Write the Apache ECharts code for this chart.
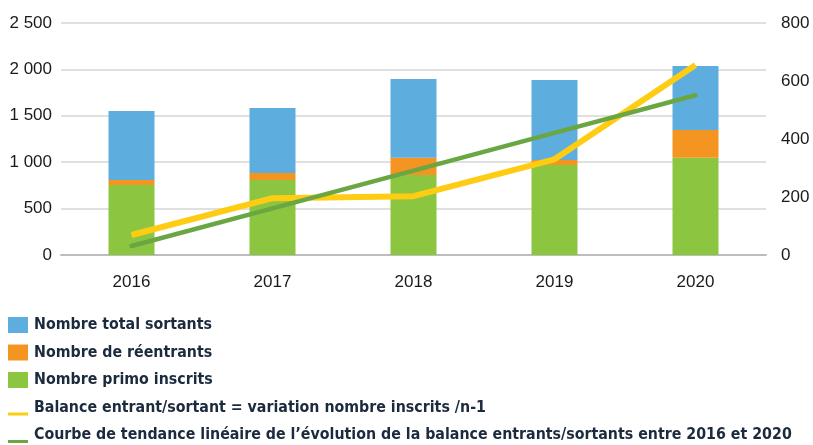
<!DOCTYPE html>
<html lang="fr">
	<head>
		<meta charset="UTF-8" />
		<title>Balance entrants / sortants</title>
		<script src="https://cdn.jsdelivr.net/npm/echarts@6/dist/echarts.min.js"></script>
		<style>
			html, body { margin: 0; padding: 0; background: #fff; }
		</style>
	</head>
	<body>
		<div id="chart" style="width: 813px; height: 445px"></div>

		<script>
			const years = ["2016", "2017", "2018", "2019", "2020"];
			// bar stack, bottom to top
			const primoInscrits = [755, 808, 862, 970, 1049];
			const reentrants = [53, 76, 187, 54, 298];
			const totalSortants = [744, 700, 848, 862, 690];
			// right axis
			const balance = [69, 196, 203, 330, 655];
			const tendance = [31, 161, 291, 421, 551];

			const names = {
				sortants: "Nombre total sortants",
				reentrants: "Nombre de réentrants",
				primo: "Nombre primo inscrits",
				balance: "Balance entrant/sortant = variation nombre inscrits /n-1",
				tendance: "Courbe de tendance linéaire de l’évolution de la balance entrants/sortants entre 2016 et 2020",
			};

			const lineIcon = "path://M0,0 L20,0 L20,0.01 Z M0,13 L20,13 L20,16 L0,16 Z";
			const fmt = (v) => String(v).replace(/\B(?=(\d{3})+(?!\d))/g, " ");

			const chart = echarts.init(document.getElementById("chart"));

			const axisText = {
				fontFamily: "Liberation Sans",
				fontSize: 17,
				color: "#1a1a1a",
			};

			chart.setOption({
				animation: false,
				grid: { left: 61, right: 47, top: 23, bottom: 190 },
				legend: {
					orient: "vertical",
					left: 8,
					top: 317,
					padding: 0,
					itemWidth: 20,
					itemHeight: 16,
					itemGap: 11.5,
					textStyle: {
						fontFamily: "DejaVu Sans Condensed",
						fontWeight: "bold",
						fontSize: 15.8,
						color: "#1b2a3d",
						padding: [0, 0, 0, 1],
					},
					data: [
						{ name: names.sortants, icon: "rect" },
						{ name: names.reentrants, icon: "rect" },
						{ name: names.primo, icon: "rect" },
						{ name: names.balance, icon: lineIcon },
						{ name: names.tendance, icon: lineIcon },
					],
				},
				xAxis: {
					type: "category",
					data: years,
					axisTick: { show: false },
					axisLine: { lineStyle: { color: "#bdbdbd", width: 2 } },
					axisLabel: Object.assign({ margin: 19 }, axisText),
				},
				yAxis: [
					{
						type: "value",
						min: 0,
						max: 2500,
						interval: 500,
						axisLabel: Object.assign({ margin: 9, formatter: fmt }, axisText),
						splitLine: { lineStyle: { color: "#d6d6d6", width: 1.5 } },
					},
					{
						type: "value",
						min: 0,
						max: 800,
						interval: 200,
						axisLabel: Object.assign({ margin: 15 }, axisText),
						splitLine: { show: false },
					},
				],
				series: [
					{
						name: names.primo,
						type: "bar",
						stack: "total",
						barWidth: 46,
						data: primoInscrits,
						itemStyle: { color: "#8cc540" },
					},
					{
						name: names.reentrants,
						type: "bar",
						stack: "total",
						barWidth: 46,
						data: reentrants,
						itemStyle: { color: "#f49421" },
					},
					{
						name: names.sortants,
						type: "bar",
						stack: "total",
						barWidth: 46,
						data: totalSortants,
						itemStyle: { color: "#5eaddf" },
					},
					{
						name: names.balance,
						type: "line",
						yAxisIndex: 1,
						data: balance,
						symbol: "none",
						itemStyle: { color: "#ffcc14" },
						lineStyle: { color: "#ffcc14", width: 6 },
					},
					{
						name: names.tendance,
						type: "line",
						yAxisIndex: 1,
						data: tendance,
						symbol: "none",
						itemStyle: { color: "#6aa642" },
						lineStyle: { color: "#6aa642", width: 4.5, cap: "round" },
					},
				],
			});

			window.addEventListener("resize", function () {
				chart.resize();
			});
		</script>
	</body>
</html>
